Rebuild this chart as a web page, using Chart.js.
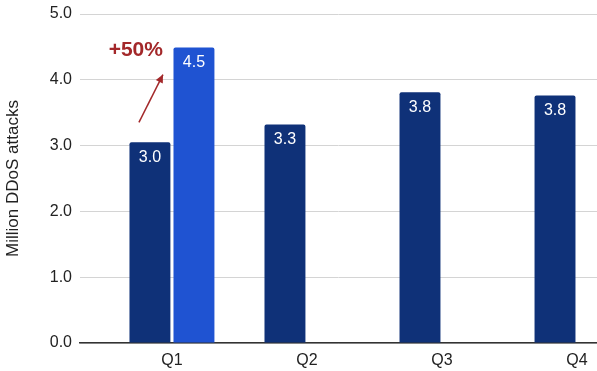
<!DOCTYPE html>
<html>
<head>
<meta charset="utf-8">
<script src="https://cdn.jsdelivr.net/npm/chart.js@4.4.1/dist/chart.umd.min.js"></script>
<style>
  html, body { margin: 0; padding: 0; background: #fff; overflow: hidden; }
  #wrap { width: 597px; height: 371px; }
</style>
</head>
<body>
<div id="wrap"><canvas id="chart" width="597" height="371"></canvas></div>
<script>
// quarters and attack counts (million)
const quarters = ['Q1', 'Q2', 'Q3', 'Q4'];
const prevYear = [3.05, 3.32, 3.81, 3.76];
const thisYear = [4.49, null, null, null];
const yTicks = [0, 1, 2, 3, 4, 5];

const DARK = '#0f3178';
const LIGHT = '#1f53d2';
const FONT = "'Liberation Sans', Arial, sans-serif";

function toPoints(values) {
    return values.map((v, i) => ({ x: i, y: v }));
}

// white value labels inside the top of each bar
const barLabels = {
    id: 'barLabels',
    afterDatasetsDraw(chart) {
        const ctx = chart.ctx;
        ctx.save();
        ctx.fillStyle = '#ffffff';
        ctx.font = '16px ' + FONT;
        ctx.textAlign = 'center';
        ctx.textBaseline = 'middle';
        chart.data.datasets.forEach((ds, di) => {
            chart.getDatasetMeta(di).data.forEach((bar, i) => {
                const v = ds.data[i].y;
                if (v === null) return;
                ctx.fillText(v.toFixed(1), bar.x, bar.y + 15);
            });
        });
        ctx.restore();
    }
};

// "+50%" note with an arrow from the Q1 bar to the new Q1 bar
const growthNote = {
    id: 'growthNote',
    afterDraw(chart) {
        const a = chart.getDatasetMeta(0).data[0];
        const b = chart.getDatasetMeta(1).data[0];
        const ctx = chart.ctx;
        const red = '#a3282a';
        ctx.save();
        ctx.fillStyle = red;
        ctx.font = 'bold 21px ' + FONT;
        ctx.textAlign = 'right';
        ctx.textBaseline = 'middle';
        ctx.fillText('+50%', b.x - 31, b.y + 3);

        const x1 = a.x - 11, y1 = a.y - 20;
        const x2 = b.x - 31, y2 = b.y + 27;
        ctx.strokeStyle = red;
        ctx.lineWidth = 1.5;
        ctx.beginPath();
        ctx.moveTo(x1, y1);
        ctx.lineTo(x2, y2);
        ctx.stroke();
        const ang = Math.atan2(y2 - y1, x2 - x1);
        const len = 9, spread = 0.45;
        ctx.beginPath();
        ctx.moveTo(x2, y2);
        ctx.lineTo(x2 - len * Math.cos(ang - spread), y2 - len * Math.sin(ang - spread));
        ctx.lineTo(x2 - len * Math.cos(ang + spread), y2 - len * Math.sin(ang + spread));
        ctx.closePath();
        ctx.fill();
        ctx.restore();
    }
};

new Chart(document.getElementById('chart'), {
    type: 'bar',
    data: {
        datasets: [
            {
                label: 'Previous year',
                data: toPoints(prevYear),
                backgroundColor: DARK,
                borderRadius: { topLeft: 2, topRight: 2 },
                borderSkipped: 'bottom'
            },
            {
                label: 'This year',
                data: toPoints(thisYear),
                backgroundColor: LIGHT,
                borderRadius: { topLeft: 2, topRight: 2 },
                borderSkipped: 'bottom'
            }
        ]
    },
    options: {
        responsive: false,
        animation: false,
        categoryPercentage: 0.652,
        barPercentage: 0.93,
        layout: { padding: { top: 14, right: 0, left: 0, bottom: 0 } },
        plugins: {
            legend: { display: false },
            tooltip: { enabled: false }
        },
        scales: {
            x: {
                type: 'linear',
                offset: false,
                min: -0.681,
                max: 3.148,
                afterBuildTicks(scale) {
                    scale.ticks = quarters.map((q, i) => ({ value: i }));
                },
                afterFit(scale) {
                    scale.height = 28;
                    scale.paddingLeft = 0;
                    scale.paddingRight = 0;
                },
                grid: { display: false, offset: false },
                border: { display: true, color: '#333333', width: 1.5 },
                ticks: {
                    color: '#222222',
                    font: { family: FONT, size: 16 },
                    padding: 0,
                    maxRotation: 0,
                    callback: (v) => quarters[v] || ''
                }
            },
            y: {
                min: 0,
                max: 5,
                afterBuildTicks(scale) {
                    scale.ticks = yTicks.map(v => ({ value: v }));
                },
                afterFit(scale) {
                    scale.width = 80;
                    scale.paddingTop = 0;
                    scale.paddingBottom = 0;
                },
                grid: { color: '#d4d4d4', lineWidth: 1, drawTicks: false },
                border: { display: false },
                ticks: {
                    color: '#222222',
                    font: { family: FONT, size: 16 },
                    padding: 8,
                    callback: (v) => v.toFixed(1)
                },
                title: {
                    display: true,
                    text: 'Million DDoS attacks',
                    color: '#222222',
                    font: { family: FONT, size: 17 },
                    padding: { top: 3, bottom: 10 }
                }
            }
        }
    },
    plugins: [barLabels, growthNote]
});
</script>
</body>
</html>
